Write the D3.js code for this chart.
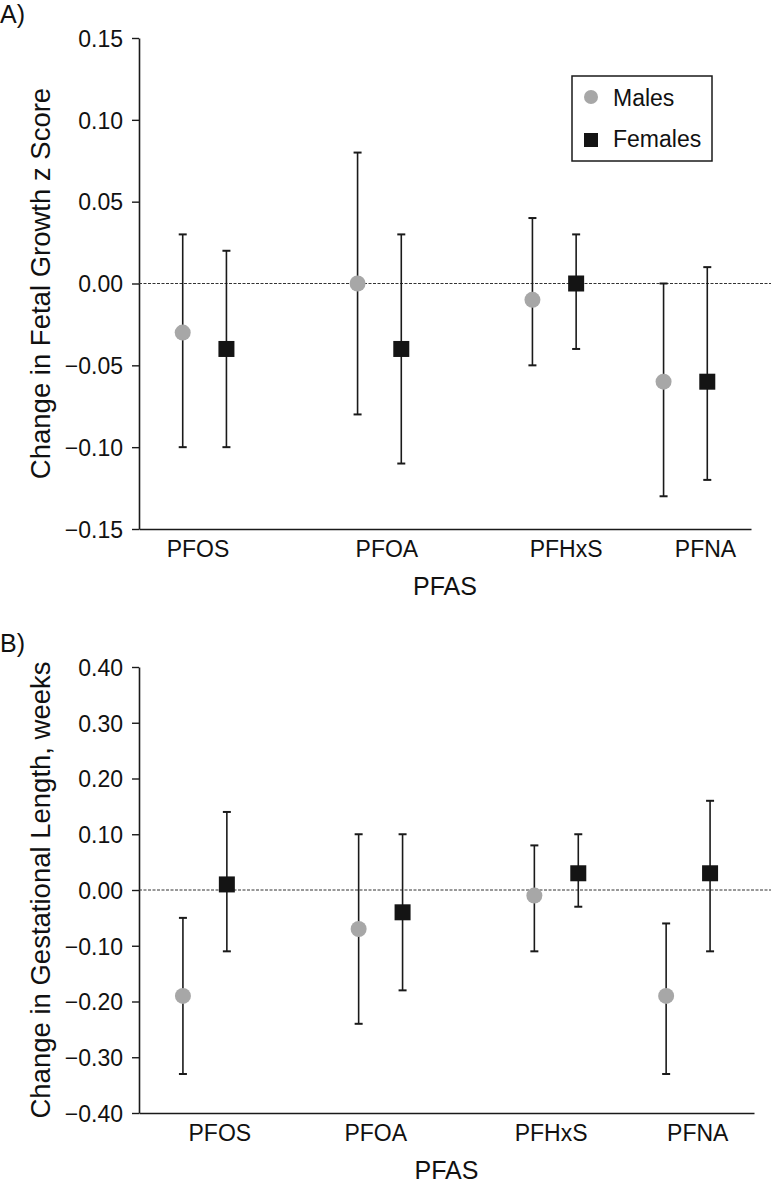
<!DOCTYPE html>
<html>
<head>
<meta charset="utf-8">
<script src="https://cdn.jsdelivr.net/npm/d3@7"></script>
<style>
  html, body { margin: 0; padding: 0; background: #fff; }
  svg { display: block; }
  text { font-family: "Liberation Sans", Arial, Helvetica, sans-serif; fill: #111; }
</style>
</head>
<body>
<script>
// ---------- data ----------
const categories = ["PFOS", "PFOA", "PFHxS", "PFNA"];
const seriesNames = ["Males", "Females"];

// Panel A: change in fetal growth z score
const aMaleEst   = [-0.03, 0.00, -0.01, -0.06];
const aMaleLow   = [-0.10, -0.08, -0.05, -0.13];
const aMaleHigh  = [0.03, 0.08, 0.04, 0.00];
const aFemaleEst  = [-0.04, -0.04, 0.00, -0.06];
const aFemaleLow  = [-0.10, -0.11, -0.04, -0.12];
const aFemaleHigh = [0.02, 0.03, 0.03, 0.01];
const aTicks = [-0.15, -0.10, -0.05, 0.00, 0.05, 0.10, 0.15];

// Panel B: change in gestational length, weeks
const bMaleEst   = [-0.19, -0.07, -0.01, -0.19];
const bMaleLow   = [-0.33, -0.24, -0.11, -0.33];
const bMaleHigh  = [-0.05, 0.10, 0.08, -0.06];
const bFemaleEst  = [0.01, -0.04, 0.03, 0.03];
const bFemaleLow  = [-0.11, -0.18, -0.03, -0.11];
const bFemaleHigh = [0.14, 0.10, 0.10, 0.16];
const bTicks = [-0.40, -0.30, -0.20, -0.10, 0.00, 0.10, 0.20, 0.30, 0.40];

// x values (plot units) of the points and category labels
const maleX   = [1, 5, 9, 12];
const femaleX = [2, 6, 10, 13];
const aLabelX = [1.35, 5.67, 9.77, 12.96];
const bLabelX = [1.84, 5.39, 9.38, 12.72];

// ---------- drawing ----------
const W = 771, H = 1187;
const svg = d3.select("body").append("svg").attr("width", W).attr("height", H);

const MALE_COLOR = "#a7a7a7", FEMALE_COLOR = "#141414", INK = "#1a1a1a";
const fmt = d3.format(".2f");

function panel(cfg) {
  const x = d3.scaleLinear().domain([0, 14]).range([cfg.left, cfg.right]);
  const y = d3.scaleLinear().domain(cfg.yDomain).range([cfg.bottom, cfg.top]);
  const g = svg.append("g");

  // y axis
  const yAxis = d3.axisLeft(y).tickValues(cfg.ticks).tickSize(7).tickSizeOuter(0)
    .tickPadding(9).tickFormat(fmt);
  const ya = g.append("g").attr("transform", `translate(${cfg.left},0)`).call(yAxis);
  ya.select(".domain").attr("stroke", INK).attr("stroke-width", 1.6);
  ya.selectAll(".tick line").attr("stroke", INK).attr("stroke-width", 1.4);
  ya.selectAll(".tick text").attr("font-size", 23).attr("fill", "#111")
    .attr("font-family", '"Liberation Sans", Arial, sans-serif').attr("dy", "0.36em");

  // x axis line (no ticks)
  const xa = g.append("g").attr("transform", `translate(0,${cfg.bottom})`)
    .call(d3.axisBottom(x).tickValues([]).tickSizeOuter(0));
  xa.select(".domain").attr("stroke", INK).attr("stroke-width", 1.6);

  // category labels
  g.selectAll(".cat").data(categories).join("text")
    .attr("x", (d, i) => x(cfg.labelX[i]))
    .attr("y", cfg.bottom + 28)
    .attr("text-anchor", "middle").attr("font-size", 23).text(d => d);

  // zero reference line
  g.append("line")
    .attr("x1", cfg.left).attr("x2", W)
    .attr("y1", y(0)).attr("y2", y(0))
    .attr("stroke", "#333").attr("stroke-width", 1).attr("stroke-dasharray", "3,1.5");

  // axis titles
  g.append("text")
    .attr("transform", `translate(50,${(cfg.top + cfg.bottom) / 2}) rotate(-90)`)
    .attr("text-anchor", "middle").attr("font-size", 27.5).text(cfg.yTitle);
  g.append("text")
    .attr("x", (cfg.left + cfg.right) / 2).attr("y", cfg.bottom + 66)
    .attr("text-anchor", "middle").attr("font-size", 25).text("PFAS");

  // panel tag
  g.append("text").attr("x", 0).attr("y", cfg.top - 15)
    .attr("font-size", 25).text(cfg.tag);

  const series = [
    { name: "Males", xs: maleX, est: cfg.mEst, lo: cfg.mLow, hi: cfg.mHigh },
    { name: "Females", xs: femaleX, est: cfg.fEst, lo: cfg.fLow, hi: cfg.fHigh }
  ];
  series.forEach(s => {
    const rows = categories.map((c, i) => ({ x: s.xs[i], est: s.est[i], lo: s.lo[i], hi: s.hi[i] }));
    const eg = g.append("g").attr("stroke", INK).attr("stroke-width", 1.6);
    eg.selectAll(".v").data(rows).join("line")
      .attr("x1", d => x(d.x)).attr("x2", d => x(d.x))
      .attr("y1", d => y(d.lo)).attr("y2", d => y(d.hi));
    eg.selectAll(".ct").data(rows).join("line")
      .attr("x1", d => x(d.x) - 4).attr("x2", d => x(d.x) + 4)
      .attr("y1", d => y(d.hi)).attr("y2", d => y(d.hi)).attr("stroke-width", 2);
    eg.selectAll(".cb").data(rows).join("line")
      .attr("x1", d => x(d.x) - 4).attr("x2", d => x(d.x) + 4)
      .attr("y1", d => y(d.lo)).attr("y2", d => y(d.lo)).attr("stroke-width", 2);
    if (s.name === "Males") {
      g.selectAll(".m").data(rows).join("circle")
        .attr("cx", d => x(d.x)).attr("cy", d => y(d.est)).attr("r", 8)
        .attr("fill", MALE_COLOR);
    } else {
      g.selectAll(".f").data(rows).join("rect")
        .attr("x", d => x(d.x) - 8).attr("y", d => y(d.est) - 8)
        .attr("width", 16).attr("height", 16).attr("fill", FEMALE_COLOR);
    }
  });
  return { x, y, g };
}

const A = panel({
  tag: "A)", left: 139, right: 751, top: 38, bottom: 529,
  yDomain: [-0.15, 0.15], ticks: aTicks, labelX: aLabelX,
  yTitle: "Change in Fetal Growth z Score",
  mEst: aMaleEst, mLow: aMaleLow, mHigh: aMaleHigh,
  fEst: aFemaleEst, fLow: aFemaleLow, fHigh: aFemaleHigh
});

panel({
  tag: "B)", left: 139, right: 754, top: 667, bottom: 1113,
  yDomain: [-0.40, 0.40], ticks: bTicks, labelX: bLabelX,
  yTitle: "Change in Gestational Length, weeks",
  mEst: bMaleEst, mLow: bMaleLow, mHigh: bMaleHigh,
  fEst: bFemaleEst, fLow: bFemaleLow, fHigh: bFemaleHigh
});

// legend (panel A)
const leg = svg.append("g").attr("transform", "translate(572,76)");
leg.append("rect").attr("width", 140).attr("height", 85)
  .attr("fill", "#fff").attr("stroke", INK).attr("stroke-width", 1.5);
leg.append("circle").attr("cx", 19).attr("cy", 21).attr("r", 7).attr("fill", MALE_COLOR);
leg.append("rect").attr("x", 12).attr("y", 57).attr("width", 14).attr("height", 14).attr("fill", FEMALE_COLOR);
leg.selectAll(".lt").data(seriesNames).join("text")
  .attr("x", 41).attr("y", (d, i) => 30 + i * 41)
  .attr("font-size", 23).text(d => d);
</script>
</body>
</html>
